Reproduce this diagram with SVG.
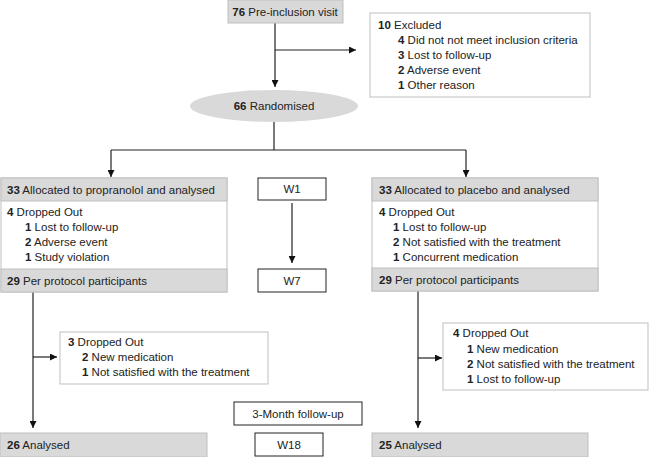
<svg xmlns="http://www.w3.org/2000/svg" width="652" height="457" viewBox="0 0 652 457">
<defs>
<marker id="ah" viewBox="0 0 8 8" refX="8" refY="4" markerWidth="7" markerHeight="7" orient="auto" markerUnits="userSpaceOnUse"><path d="M0,0 L8,4 L0,8 z" fill="#111"/></marker>
<style>
text{font-family:"Liberation Sans",Arial,sans-serif;font-size:11.5px;fill:#222}
.b{font-weight:bold}
.g{fill:#d9d9d9;stroke:#bfbfbf;stroke-width:1}
.w{fill:#fff;stroke:#bfbfbf;stroke-width:1}
.k{fill:#fff;stroke:#222;stroke-width:1}
.c{fill:none;stroke:#222;stroke-width:1.2}
.m{text-anchor:middle}
</style>
</defs>
<rect width="652" height="457" fill="#fff"/>
<g id="connectors">
<path class="c" d="M275,23 V87" marker-end="url(#ah)"/>
<path class="c" d="M275,50 H356" marker-end="url(#ah)"/>
<path class="c" d="M274,122 V150 M111,150 H466"/>
<path class="c" d="M111,150 V177" marker-end="url(#ah)"/>
<path class="c" d="M466,150 V177" marker-end="url(#ah)"/>
<path class="c" d="M292,203 V263" marker-end="url(#ah)"/>
<path class="c" d="M33,292 V428" marker-end="url(#ah)"/>
<path class="c" d="M33,357 H57" marker-end="url(#ah)"/>
<path class="c" d="M418,291 V428" marker-end="url(#ah)"/>
<path class="c" d="M418,358 H442" marker-end="url(#ah)"/>
</g>
<g id="preinclusion">
<rect class="g" x="228" y="0" width="115" height="23"/>
<text x="285" y="16" class="m"><tspan class="b">76</tspan> Pre-inclusion visit</text>
</g>
<g id="excluded">
<rect class="w" x="370" y="13" width="220" height="84"/>
<text x="378" y="29"><tspan class="b">10</tspan> Excluded</text>
<text x="398" y="44"><tspan class="b">4</tspan> Did not not meet inclusion criteria</text>
<text x="398" y="59"><tspan class="b">3</tspan> Lost to follow-up</text>
<text x="398" y="74"><tspan class="b">2</tspan> Adverse event</text>
<text x="398" y="89"><tspan class="b">1</tspan> Other reason</text>
</g>
<g id="randomised">
<ellipse cx="274" cy="106" rx="84" ry="16" fill="#d9d9d9"/>
<text x="274" y="110" class="m"><tspan class="b">66</tspan> Randomised</text>
</g>
<g id="propranolol">
<rect class="w" x="1" y="178" width="226" height="114"/>
<rect class="g" x="1" y="178" width="226" height="23"/>
<rect class="g" x="1" y="269" width="226" height="23"/>
<text x="7" y="194"><tspan class="b">33</tspan> Allocated to propranolol and analysed</text>
<text x="7" y="216"><tspan class="b">4</tspan> Dropped Out</text>
<text x="25" y="231"><tspan class="b">1</tspan> Lost to follow-up</text>
<text x="25" y="246"><tspan class="b">2</tspan> Adverse event</text>
<text x="25" y="261"><tspan class="b">1</tspan> Study violation</text>
<text x="7" y="285"><tspan class="b">29</tspan> Per protocol participants</text>
</g>
<g id="placebo">
<rect class="w" x="372" y="178" width="226" height="113"/>
<rect class="g" x="372" y="178" width="226" height="23"/>
<rect class="g" x="372" y="268" width="226" height="23"/>
<text x="379" y="194"><tspan class="b">33</tspan> Allocated to placebo and analysed</text>
<text x="379" y="216"><tspan class="b">4</tspan> Dropped Out</text>
<text x="393" y="231"><tspan class="b">1</tspan> Lost to follow-up</text>
<text x="393" y="246"><tspan class="b">2</tspan> Not satisfied with the treatment</text>
<text x="393" y="261"><tspan class="b">1</tspan> Concurrent medication</text>
<text x="379" y="284"><tspan class="b">29</tspan> Per protocol participants</text>
</g>
<g id="w1">
<rect class="k" x="258" y="178" width="68" height="22"/>
<text x="292" y="193" class="m">W1</text>
</g>
<g id="w7">
<rect class="k" x="258" y="269" width="68" height="23"/>
<text x="292" y="285" class="m">W7</text>
</g>
<g id="dropped-left">
<rect class="w" x="60" y="332" width="208" height="52"/>
<text x="68" y="346"><tspan class="b">3</tspan> Dropped Out</text>
<text x="82" y="361"><tspan class="b">2</tspan> New medication</text>
<text x="82" y="376"><tspan class="b">1</tspan> Not satisfied with the treatment</text>
</g>
<g id="dropped-right">
<rect class="w" x="443" y="323" width="205" height="67"/>
<text x="453" y="337"><tspan class="b">4</tspan> Dropped Out</text>
<text x="467" y="353"><tspan class="b">1</tspan> New medication</text>
<text x="467" y="368"><tspan class="b">2</tspan> Not satisfied with the treatment</text>
<text x="467" y="383"><tspan class="b">1</tspan> Lost to follow-up</text>
</g>
<g id="followup">
<rect class="k" x="234" y="402" width="128" height="23"/>
<text x="298" y="418" class="m">3-Month follow-up</text>
</g>
<g id="w18">
<rect class="k" x="255" y="433" width="68" height="23"/>
<text x="289" y="449" class="m">W18</text>
</g>
<g id="analysed-left">
<rect class="g" x="0" y="433" width="207" height="24"/>
<text x="7" y="449"><tspan class="b">26</tspan> Analysed</text>
</g>
<g id="analysed-right">
<rect class="g" x="372" y="433" width="216" height="24"/>
<text x="379" y="449"><tspan class="b">25</tspan> Analysed</text>
</g>
</svg>
